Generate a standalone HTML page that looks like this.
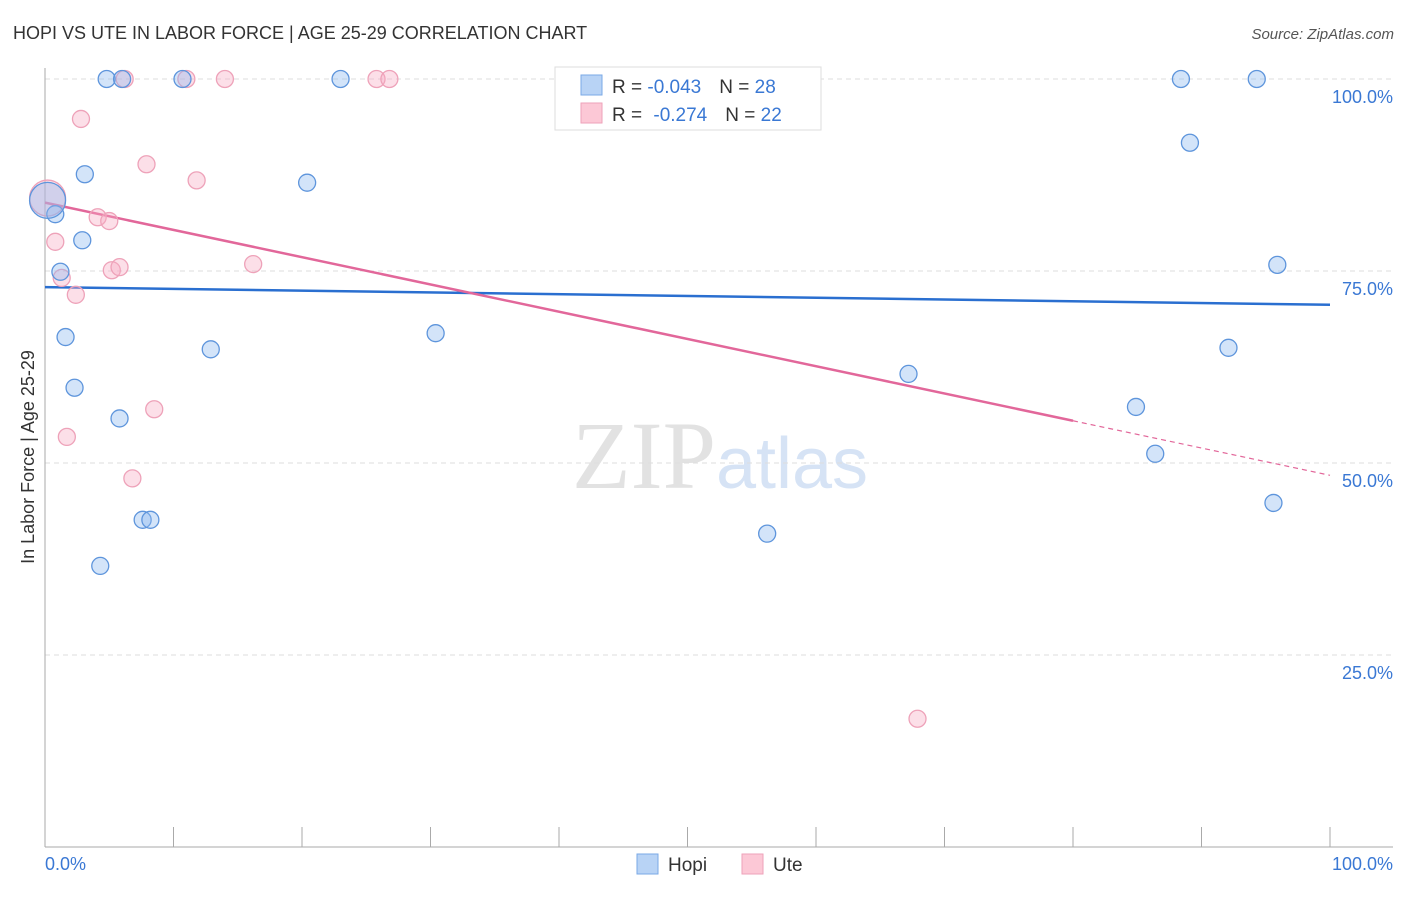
<!DOCTYPE html>
<html><head><meta charset="utf-8"><style>
body{margin:0;background:#fff;font-family:"Liberation Sans",sans-serif;}
svg text{font-family:"Liberation Sans",sans-serif;}
</style></head><body>
<svg id="chart" width="1406" height="892" viewBox="0 0 1406 892" xmlns="http://www.w3.org/2000/svg">
<text x="13" y="39" font-size="18" fill="#333">HOPI VS UTE IN LABOR FORCE | AGE 25-29 CORRELATION CHART</text>
<text x="1394" y="39" font-size="15" fill="#555" text-anchor="end" font-style="italic">Source: ZipAtlas.com</text>
<text x="720" y="488" font-size="96" text-anchor="middle"><tspan fill="#e2e2e2" font-family="Liberation Serif">ZIP</tspan><tspan fill="#d6e3f5" font-size="72">atlas</tspan></text>
<g id="grid"></g>
<g id="axes"></g>
<g id="trends"></g>
<g id="points"></g>
<text transform="translate(34,457) rotate(-90)" font-size="18" fill="#333" text-anchor="middle">In Labor Force | Age 25-29</text>
<g>
<rect x="555" y="67" width="266" height="63" fill="#fff" stroke="#ddd"/>
<rect x="581" y="75" width="21" height="20" fill="#b8d3f5" stroke="#7aa8e6"/>
<rect x="581" y="103" width="21" height="20" fill="#fcc8d6" stroke="#eea2b9"/>
<text x="612" y="93" font-size="19" fill="#333">R = <tspan fill="#3a78d4">-0.043</tspan><tspan dx="18">N = </tspan><tspan fill="#3a78d4">28</tspan></text>
<text x="612" y="121" font-size="19" fill="#333">R = <tspan dx="6" fill="#3a78d4">-0.274</tspan><tspan dx="18">N = </tspan><tspan fill="#3a78d4">22</tspan></text>
</g>
<g>
<rect x="637" y="854" width="21" height="20" fill="#b8d3f5" stroke="#7aa8e6"/>
<text x="668" y="871" font-size="19" fill="#333">Hopi</text>
<rect x="742" y="854" width="21" height="20" fill="#fcc8d6" stroke="#eea2b9"/>
<text x="773" y="871" font-size="19" fill="#333">Ute</text>
</g>
</svg>
<script>
const yTicks=[25,50,75,100];
const yTickLabels=["25.0%","50.0%","75.0%","100.0%"];
const hopiX=[4.8,6.0,10.7,23.0,88.4,94.3,89.1,3.1,20.4,0.8,2.9,1.2,95.9,1.6,30.4,12.9,92.1,2.3,67.2,5.8,84.9,86.4,7.6,8.2,95.6,56.2,4.3,0.2];
const hopiY=[100,100,100,100,100,100,91.7,87.6,86.5,82.4,79.0,74.9,75.8,66.4,66.9,64.8,65.0,59.8,61.6,55.8,57.3,51.2,42.6,42.6,44.8,40.8,36.6,84.2];
const uteX=[6.2,11.0,14.0,25.8,26.8,44.3,2.8,7.9,11.8,4.1,5.0,0.8,5.2,5.8,1.3,16.2,2.4,8.5,1.7,6.8,67.9,0.2];
const uteY=[100,100,100,100,100,100,94.8,88.9,86.8,82.0,81.5,78.8,75.1,75.5,74.1,75.9,71.9,57.0,53.4,48.0,16.7,84.5];
const hopiTrend=[72.9,70.6];
const uteTrend=[83.9,48.4];
const NS="http://www.w3.org/2000/svg";
const X0=45,X1=1330,Y0=847,Y100=79;
const sx=v=>X0+(X1-X0)*v/100, sy=v=>Y0-(Y0-Y100)*v/100;
function mk(tag,attrs,parent){const e=document.createElementNS(NS,tag);for(const k in attrs)e.setAttribute(k,attrs[k]);parent.appendChild(e);return e;}
const grid=document.getElementById('grid'),axes=document.getElementById('axes');
yTicks.forEach((t,i)=>{
 const l=mk('line',{x1:X0,x2:1393,y1:sy(t),y2:sy(t),stroke:'#ddd','stroke-dasharray':'5,4'},grid);
 
 
 const tx=mk('text',{x:1393,y:sy(t)+24,'font-size':18,fill:'#3a78d4','text-anchor':'end'},axes);
 tx.textContent=yTickLabels[i];
 
 
});
mk('line',{x1:X0,x2:X0,y1:68,y2:847,stroke:'#aaa'},axes);
mk('line',{x1:X0,x2:1393,y1:847,y2:847,stroke:'#aaa'},axes);
for(let i=0;i<=10;i++){const x=sx(i*10);mk('line',{x1:x,x2:x,y1:827,y2:847,stroke:'#aaa'},axes);}
const xl=mk('text',{x:45,y:870,'font-size':18,fill:'#3a78d4'},axes);xl.textContent='0.0%';


const xr=mk('text',{x:1393,y:870,'font-size':18,fill:'#3a78d4','text-anchor':'end'},axes);xr.textContent='100.0%';


const tr=document.getElementById('trends');
const hl=mk('line',{x1:sx(0),y1:sy(hopiTrend[0]),x2:sx(100),y2:sy(hopiTrend[1]),stroke:'#2a6fd0','stroke-width':2.5},tr);


const uAt=x=>uteTrend[0]+(uteTrend[1]-uteTrend[0])*x/100;
const ul=mk('line',{x1:sx(0),y1:sy(uAt(0)),x2:sx(80),y2:sy(uAt(80)),stroke:'#e2679a','stroke-width':2.5},tr);


const ud=mk('line',{x1:sx(80),y1:sy(uAt(80)),x2:sx(100),y2:sy(uAt(100)),stroke:'#e2679a','stroke-width':1.2,'stroke-dasharray':'5,4'},tr);


const pts=document.getElementById('points');
function draw(xs,ys,fill,stroke,name){xs.forEach((x,i)=>{
 const r=(i===xs.length-1)?18:8.5;
 const c=mk('circle',{cx:sx(x),cy:sy(ys[i]),r:r,fill:fill,stroke:stroke,'stroke-width':1.3},pts);
 
 
});}
draw(uteX,uteY,'rgba(248,170,195,0.38)','#eea2b9','ute-point');
draw(hopiX,hopiY,'rgba(140,185,240,0.38)','#5e95dc','hopi-point');
</script>
</body></html>
